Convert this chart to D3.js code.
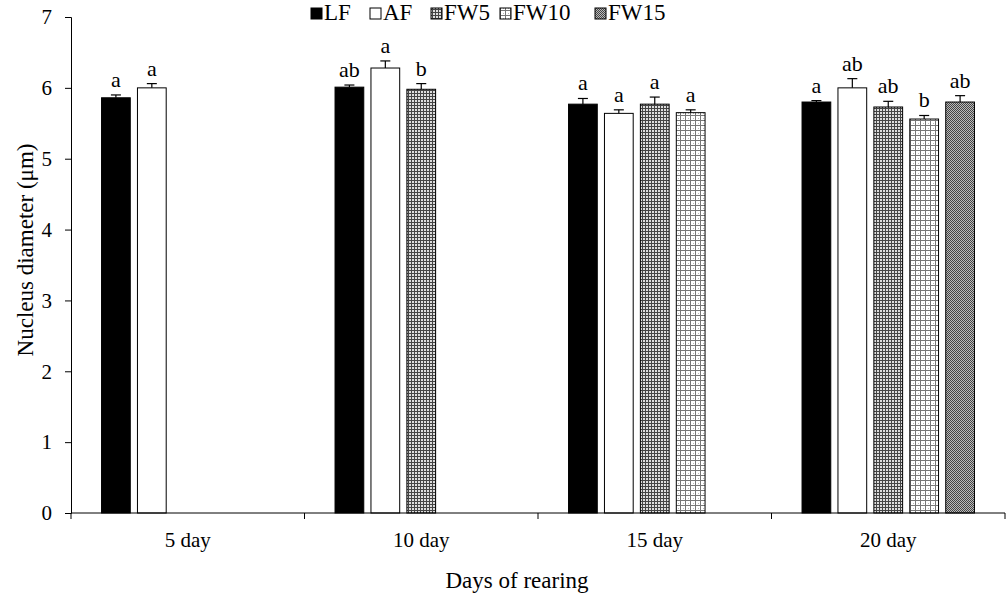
<!DOCTYPE html>
<html>
<head>
<meta charset="utf-8">
<script src="https://cdn.jsdelivr.net/npm/d3@7"></script>
<style>
  body { margin: 0; background: #fff; }
  svg { display: block; }
</style>
</head>
<body>
<div id="chart"></div>
<script>
// Nucleus diameter by days of rearing, grouped bars with error bars and letters
const categories = ['5 day', '10 day', '15 day', '20 day'];
const seriesNames = ['LF', 'AF', 'FW5', 'FW10', 'FW15'];

const meanLF   = [5.86, 6.01, 5.77, 5.80];
const meanAF   = [6.00, 6.28, 5.64, 6.00];
const meanFW5  = [null, 5.98, 5.77, 5.73];
const meanFW10 = [null, null, 5.65, 5.56];
const meanFW15 = [null, null, null, 5.80];

const errLF   = [0.04, 0.03, 0.08, 0.02];
const errAF   = [0.06, 0.10, 0.05, 0.13];
const errFW5  = [null, 0.08, 0.10, 0.08];
const errFW10 = [null, null, 0.04, 0.05];
const errFW15 = [null, null, null, 0.09];

const letLF   = ['a', 'ab', 'a', 'a'];
const letAF   = ['a', 'a', 'a', 'ab'];
const letFW5  = [null, 'b', 'a', 'ab'];
const letFW10 = [null, null, 'a', 'b'];
const letFW15 = [null, null, null, 'ab'];

const yTicks = [0, 1, 2, 3, 4, 5, 6, 7];

const means = [meanLF, meanAF, meanFW5, meanFW10, meanFW15];
const errs = [errLF, errAF, errFW5, errFW10, errFW15];
const lets = [letLF, letAF, letFW5, letFW10, letFW15];

const W = 1008, H = 596;
const FONT = '"Liberation Serif", "Times New Roman", serif';
const plot = { left: 71, right: 1005, top: 17, bottom: 513 };

const svg = d3.select('#chart').append('svg')
  .attr('width', W).attr('height', H)
  .style('font-family', FONT);

// patterns
const defs = svg.append('defs');
const p5 = defs.append('pattern').attr('id', 'pFW5')
  .attr('width', 3).attr('height', 3).attr('patternUnits', 'userSpaceOnUse');
p5.append('rect').attr('width', 3).attr('height', 3).attr('fill', '#ddd');
p5.append('rect').attr('width', 3).attr('height', 1).attr('fill', '#444');
p5.append('rect').attr('width', 1).attr('height', 3).attr('fill', '#444');

const p10 = defs.append('pattern').attr('id', 'pFW10')
  .attr('width', 5).attr('height', 5).attr('patternUnits', 'userSpaceOnUse');
p10.append('rect').attr('width', 5).attr('height', 5).attr('fill', '#fff');
p10.append('rect').attr('width', 5).attr('height', 1).attr('fill', '#777');
p10.append('rect').attr('width', 1).attr('height', 5).attr('fill', '#777');
p10.append('rect').attr('x', 3).attr('y', 3).attr('width', 1).attr('height', 1).attr('fill', '#bbb');

const p15 = defs.append('pattern').attr('id', 'pFW15')
  .attr('width', 2).attr('height', 2).attr('patternUnits', 'userSpaceOnUse');
p15.append('rect').attr('width', 2).attr('height', 2).attr('fill', '#bbb');
p15.append('rect').attr('width', 1).attr('height', 1).attr('fill', '#444');
p15.append('rect').attr('x', 1).attr('y', 1).attr('width', 1).attr('height', 1).attr('fill', '#444');

const fills = ['#000', '#fff', 'url(#pFW5)', 'url(#pFW10)', 'url(#pFW15)'];

// scales
const x0 = d3.scaleBand().domain(categories).range([plot.left, plot.right]).padding(0);
const x1 = d3.scaleBand().domain(seriesNames).range([0, x0.bandwidth()])
  .paddingInner(0.2).paddingOuter(0.85);
const y = d3.scaleLinear().domain([0, 7]).range([plot.bottom, plot.top]);

// y axis
const yAxis = svg.append('g').attr('transform', `translate(${plot.left},0)`)
  .call(d3.axisLeft(y).tickValues(yTicks).tickFormat(d3.format('d')).tickSize(6).tickPadding(13));
yAxis.select('.domain').attr('stroke', '#000');
yAxis.selectAll('.tick line').attr('stroke', '#000');
yAxis.selectAll('.tick text').style('font-family', FONT).style('font-size', '21px').attr('fill', '#000');

// bars
seriesNames.forEach((s, si) => {
  categories.forEach((c, ci) => {
    const v = means[si][ci];
    if (v == null) return;
    const bx = x0(c) + x1(s);
    const bw = x1.bandwidth();
    svg.append('rect')
      .attr('x', bx).attr('y', y(v))
      .attr('width', bw).attr('height', y(0) - y(v))
      .attr('fill', fills[si]).attr('stroke', '#000').attr('stroke-width', 1);
    const e = errs[si][ci];
    const cx = bx + bw / 2;
    const top = y(v + e);
    svg.append('line').attr('x1', cx).attr('x2', cx).attr('y1', y(v)).attr('y2', top)
      .attr('stroke', '#000').attr('stroke-width', 1.2);
    svg.append('line').attr('x1', cx - 5).attr('x2', cx + 5).attr('y1', top).attr('y2', top)
      .attr('stroke', '#000').attr('stroke-width', 1.2);
    svg.append('text').attr('x', cx).attr('y', top - 8)
      .attr('text-anchor', 'middle').style('font-size', '22px').attr('fill', '#000')
      .text(lets[si][ci]);
  });
});

// x axis with ticks at category boundaries
const xg = svg.append('g');
xg.append('line').attr('x1', plot.left).attr('x2', plot.right)
  .attr('y1', plot.bottom).attr('y2', plot.bottom).attr('stroke', '#000');
const bounds = categories.map(c => x0(c)).concat([x0(categories[categories.length - 1]) + x0.bandwidth()]);
bounds.forEach(bx => {
  xg.append('line').attr('x1', bx).attr('x2', bx)
    .attr('y1', plot.bottom).attr('y2', plot.bottom + 6).attr('stroke', '#000');
});
categories.forEach(c => {
  xg.append('text').attr('x', x0(c) + x0.bandwidth() / 2).attr('y', 547)
    .attr('text-anchor', 'middle').style('font-size', '21px').attr('fill', '#000')
    .text(c);
});

// axis titles
svg.append('text').attr('x', 517).attr('y', 588)
  .attr('text-anchor', 'middle').style('font-size', '23px').attr('fill', '#000')
  .text('Days of rearing');
svg.append('text').attr('transform', 'translate(33,250) rotate(-90)')
  .attr('text-anchor', 'middle').style('font-size', '23px').attr('fill', '#000')
  .text('Nucleus diameter (μm)');

// legend
const legendX = [311, 370, 431, 500, 595];
const lg = svg.append('g');
seriesNames.forEach((s, i) => {
  lg.append('rect').attr('x', legendX[i]).attr('y', 8).attr('width', 11).attr('height', 11)
    .attr('fill', fills[i]).attr('stroke', '#000').attr('stroke-width', 1);
  lg.append('text').attr('x', legendX[i] + 13).attr('y', 19.5)
    .style('font-size', '23px').attr('fill', '#000').text(s);
});
</script>
</body>
</html>
